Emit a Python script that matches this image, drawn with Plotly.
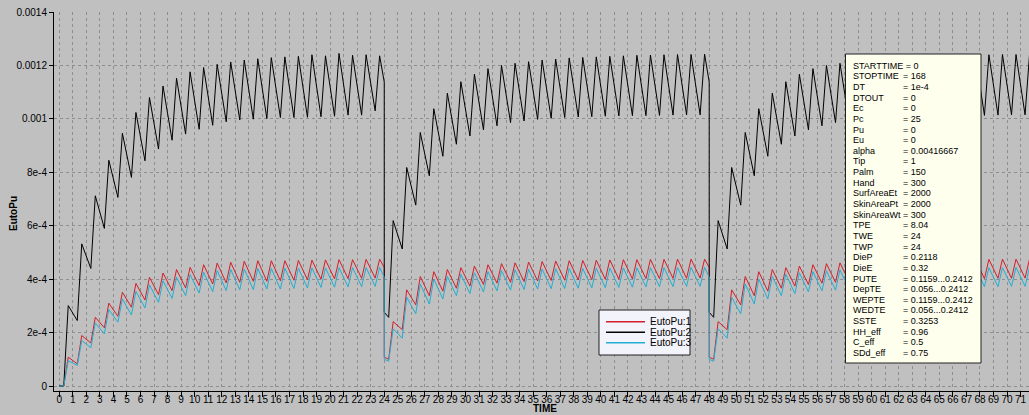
import plotly.graph_objects as go

# ---------------- data ----------------
period_starts = [0, 24, 48]

# values at t = start and t = start + 0.33 (before the first intake of each day)
black_start = [[0.0, 0.0], [0.000276, 0.000257], [0.000276, 0.000257]]
red_start = [[0.0, 0.0], [0.000108, 0.000100], [0.000108, 0.000100]]
cyan_start = [[0.0, 0.0], [0.000100, 0.000093], [0.000100, 0.000093]]

# peaks at hour k + 0.66, troughs at hour k + 1.33 within each 24 h period
black_peaks_1 = [0.000301, 0.000532, 0.000712, 0.000845, 0.000946, 0.001024, 0.001080, 0.001123,
                 0.001152, 0.001176, 0.001192, 0.001204, 0.001213, 0.001220, 0.001225, 0.001229,
                 0.001232, 0.001234, 0.001240, 0.001236, 0.001245, 0.001238, 0.001240, 0.001236]
black_troughs_1 = [0.000245, 0.000440, 0.000590, 0.000706, 0.000781, 0.000843, 0.000887, 0.000920,
                   0.000943, 0.000961, 0.000976, 0.000989, 0.000996, 0.000999, 0.001001, 0.001005,
                   0.001005, 0.001006, 0.001008, 0.001010, 0.001014, 0.001014, 0.001030]
black_peaks_2 = [0.000619, 0.000818, 0.000949, 0.001038, 0.001096, 0.001139, 0.001167, 0.001188,
                 0.001200, 0.001208, 0.001214, 0.001220, 0.001224, 0.001228, 0.001230, 0.001232,
                 0.001234, 0.001236, 0.001238, 0.001239, 0.001240, 0.001241, 0.001241, 0.001242]
black_troughs_2 = [0.000513, 0.000677, 0.000787, 0.000860, 0.000905, 0.000936, 0.000959, 0.000974,
                   0.000986, 0.000992, 0.000998, 0.001002, 0.001005, 0.001007, 0.001008, 0.001010,
                   0.001011, 0.001012, 0.001012, 0.001013, 0.001014, 0.001015, 0.001015]
black_peaks_3 = [0.000619, 0.000818, 0.000949, 0.001038, 0.001096, 0.001139, 0.001167, 0.001188,
                 0.001200, 0.001208, 0.001214, 0.001220, 0.001224, 0.001228, 0.001230, 0.001232,
                 0.001234, 0.001236, 0.001238, 0.001239, 0.001240, 0.001241, 0.001241, 0.001242]
black_troughs_3 = [0.000513, 0.000677, 0.000787, 0.000860, 0.000905, 0.000936, 0.000959, 0.000974,
                   0.000986, 0.000992, 0.000998, 0.001002, 0.001005, 0.001007, 0.001008, 0.001010,
                   0.001011, 0.001012, 0.001012, 0.001013, 0.001014, 0.001015, 0.001015]

red_peaks_1 = [0.000108, 0.000189, 0.000257, 0.000310, 0.000351, 0.000384, 0.000407, 0.000423,
               0.000436, 0.000444, 0.000454, 0.000460, 0.000463, 0.000467, 0.000469, 0.000469,
               0.000469, 0.000470, 0.000471, 0.000472, 0.000473, 0.000473, 0.000474, 0.000475]
red_troughs_1 = [0.000083, 0.000161, 0.000218, 0.000261, 0.000295, 0.000322, 0.000342, 0.000357,
                 0.000367, 0.000376, 0.000382, 0.000386, 0.000388, 0.000392, 0.000392, 0.000394,
                 0.000396, 0.000398, 0.000400, 0.000401, 0.000402, 0.000403, 0.000404]
red_peaks_2 = [0.000241, 0.000360, 0.000410, 0.000428, 0.000436, 0.000443, 0.000449, 0.000454,
               0.000458, 0.000461, 0.000464, 0.000466, 0.000468, 0.000469, 0.000470, 0.000471,
               0.000472, 0.000473, 0.000473, 0.000474, 0.000474, 0.000475, 0.000475, 0.000475]
red_troughs_2 = [0.000211, 0.000304, 0.000338, 0.000355, 0.000366, 0.000374, 0.000380, 0.000385,
                 0.000388, 0.000391, 0.000393, 0.000395, 0.000396, 0.000397, 0.000398, 0.000399,
                 0.000400, 0.000401, 0.000402, 0.000402, 0.000403, 0.000403, 0.000404]
red_peaks_3 = [0.000241, 0.000360, 0.000410, 0.000428, 0.000436, 0.000443, 0.000449, 0.000454,
               0.000458, 0.000461, 0.000464, 0.000466, 0.000468, 0.000469, 0.000470, 0.000471,
               0.000472, 0.000473, 0.000473, 0.000474, 0.000474, 0.000475, 0.000475, 0.000475]
red_troughs_3 = [0.000211, 0.000304, 0.000338, 0.000355, 0.000366, 0.000374, 0.000380, 0.000385,
                 0.000388, 0.000391, 0.000393, 0.000395, 0.000396, 0.000397, 0.000398, 0.000399,
                 0.000400, 0.000401, 0.000402, 0.000402, 0.000403, 0.000403, 0.000404]

cyan_peaks_1 = [0.000095, 0.000170, 0.000236, 0.000286, 0.000326, 0.000354, 0.000379, 0.000394,
                0.000407, 0.000417, 0.000426, 0.000432, 0.000436, 0.000438, 0.000440, 0.000440,
                0.000441, 0.000441, 0.000442, 0.000442, 0.000443, 0.000443, 0.000443, 0.000444]
cyan_troughs_1 = [0.000077, 0.000143, 0.000195, 0.000239, 0.000266, 0.000292, 0.000313, 0.000328,
                  0.000338, 0.000348, 0.000353, 0.000357, 0.000360, 0.000361, 0.000363, 0.000363,
                  0.000365, 0.000367, 0.000369, 0.000370, 0.000371, 0.000372, 0.000373]
cyan_peaks_2 = [0.000214, 0.000332, 0.000382, 0.000400, 0.000410, 0.000418, 0.000424, 0.000428,
                0.000432, 0.000435, 0.000437, 0.000438, 0.000439, 0.000440, 0.000440, 0.000441,
                0.000441, 0.000442, 0.000442, 0.000443, 0.000443, 0.000443, 0.000444, 0.000444]
cyan_troughs_2 = [0.000179, 0.000270, 0.000307, 0.000326, 0.000338, 0.000346, 0.000352, 0.000356,
                  0.000359, 0.000361, 0.000363, 0.000364, 0.000365, 0.000366, 0.000367, 0.000368,
                  0.000369, 0.000370, 0.000371, 0.000372, 0.000372, 0.000373, 0.000373]
cyan_peaks_3 = [0.000214, 0.000332, 0.000382, 0.000400, 0.000410, 0.000418, 0.000424, 0.000428,
                0.000432, 0.000435, 0.000437, 0.000438, 0.000439, 0.000440, 0.000440, 0.000441,
                0.000441, 0.000442, 0.000442, 0.000443, 0.000443, 0.000443, 0.000444, 0.000444]
cyan_troughs_3 = [0.000179, 0.000270, 0.000307, 0.000326, 0.000338, 0.000346, 0.000352, 0.000356,
                  0.000359, 0.000361, 0.000363, 0.000364, 0.000365, 0.000366, 0.000367, 0.000368,
                  0.000369, 0.000370, 0.000371, 0.000372, 0.000372, 0.000373, 0.000373]

# value just before the reset at the end of each period (t = start + 24)
black_end = [0.001138, 0.001138, None]
red_end = [0.000444, 0.000444, None]
cyan_end = [0.000407, 0.000407, None]

series_names = ["EutoPu:1", "EutoPu:2", "EutoPu:3"]
series_colors = ["#d41e2a", "#000000", "#22aed2"]

x_ticks = list(range(0, 72))
y_ticks = [0, 0.0002, 0.0004, 0.0006, 0.0008, 0.0010, 0.0012, 0.0014]
y_tick_labels = ["0", "2e-4", "4e-4", "6e-4", "8e-4", "0.001", "0.0012", "0.0014"]

param_names = ["STARTTIME", "STOPTIME", "DT", "DTOUT", "Ec", "Pc", "Pu", "Eu", "alpha", "Tip",
               "Palm", "Hand", "SurfAreaEt", "SkinAreaPt", "SkinAreaWt", "TPE", "TWE", "TWP",
               "DieP", "DieE", "PUTE", "DepTE", "WEPTE", "WEDTE", "SSTE", "HH_eff", "C_eff",
               "SDd_eff"]
param_values = ["0", "168", "1e-4", "0", "0", "25", "0", "0", "0.00416667", "1", "150", "300",
                "2000", "2000", "300", "8.04", "24", "24", "0.2118", "0.32", "0.1159...0.2412",
                "0.056...0.2412", "0.1159...0.2412", "0.056...0.2412", "0.3253", "0.96", "0.5",
                "0.75"]


def assemble(starts, start_vals, peaks, troughs, ends):
    t, v = [], []
    for s, sv, pk, tr, e in zip(starts, start_vals, peaks, troughs, ends):
        t += [s, s + 0.33]
        v += list(sv)
        for k, p in enumerate(pk):
            t.append(s + k + 0.66)
            v.append(p)
            if k < len(tr):
                t.append(s + k + 1.33)
                v.append(tr[k])
        if e is not None:
            t.append(s + 24)
            v.append(e)
    return t, v


red_t, red_v = assemble(period_starts, red_start, [red_peaks_1, red_peaks_2, red_peaks_3],
                        [red_troughs_1, red_troughs_2, red_troughs_3], red_end)
black_t, black_v = assemble(period_starts, black_start, [black_peaks_1, black_peaks_2, black_peaks_3],
                            [black_troughs_1, black_troughs_2, black_troughs_3], black_end)
cyan_t, cyan_v = assemble(period_starts, cyan_start, [cyan_peaks_1, cyan_peaks_2, cyan_peaks_3],
                          [cyan_troughs_1, cyan_troughs_2, cyan_troughs_3], cyan_end)

# ---------------- figure ----------------
NARROW = "Liberation Sans Narrow, Arial Narrow, Liberation Sans, Arial, sans-serif"
BOLD = "Liberation Sans, Arial, sans-serif"
W, H = 1029, 415
PL, PR, PT, PB = 54, 1029, 12, 391


def px_x(px):
    return (px - PL) / (PR - PL)


def px_y(py):
    return (PB - py) / (PB - PT)


fig = go.Figure()
for (tt, vv), name, col in zip([(red_t, red_v), (black_t, black_v), (cyan_t, cyan_v)],
                               series_names, series_colors):
    fig.add_trace(go.Scatter(x=tt, y=vv, mode="lines", name=name,
                             line=dict(color=col, width=1)))

shapes = []
annotations = []

# legend box (drawn manually to match the compact original)
shapes.append(dict(type="rect", xref="paper", yref="paper", x0=px_x(599), x1=px_x(690),
                   y0=px_y(355), y1=px_y(310), fillcolor="#f3f3fb",
                   line=dict(color="#202020", width=1), layer="above"))
for i, (name, col) in enumerate(zip(series_names, series_colors)):
    yy = 321.7 + i * 10.5
    shapes.append(dict(type="line", xref="paper", yref="paper", x0=px_x(606), x1=px_x(645),
                       y0=px_y(yy), y1=px_y(yy), line=dict(color=col, width=1.5), layer="above"))
    annotations.append(dict(text=name, xref="paper", yref="paper", x=px_x(648), y=px_y(yy),
                            xanchor="left", yanchor="middle", showarrow=False,
                            font=dict(family=NARROW, size=10, color="black")))

# parameter box
BOX_FONT = dict(family=NARROW, size=9, color="black")
shapes.append(dict(type="rect", xref="paper", yref="paper", x0=px_x(845.5), x1=px_x(981),
                   y0=px_y(363), y1=px_y(54), fillcolor="#ffffee",
                   line=dict(color="#202020", width=1), layer="above"))
for i, (n, val) in enumerate(zip(param_names, param_values)):
    yy = 65.7 + i * 10.64
    if i == 0:
        annotations.append(dict(text=f"{n} = {val}", xref="paper", yref="paper", x=px_x(851),
                                y=px_y(yy), xanchor="left", yanchor="middle", showarrow=False,
                                font=BOX_FONT))
        continue
    annotations.append(dict(text=n, xref="paper", yref="paper", x=px_x(851), y=px_y(yy),
                            xanchor="left", yanchor="middle", showarrow=False, font=BOX_FONT))
    annotations.append(dict(text=f"= {val}", xref="paper", yref="paper", x=px_x(901), y=px_y(yy),
                            xanchor="left", yanchor="middle", showarrow=False, font=BOX_FONT))

# axis titles
annotations.append(dict(text="<b>TIME</b>", xref="paper", yref="paper", x=px_x(545), y=px_y(408.5),
                        xanchor="center", yanchor="middle", showarrow=False,
                        font=dict(family=BOLD, size=10, color="black")))
annotations.append(dict(text="<b>EutoPu</b>", xref="paper", yref="paper", x=px_x(13), y=px_y(214),
                        xanchor="center", yanchor="middle", showarrow=False, textangle=-90,
                        font=dict(family=BOLD, size=10, color="black")))

fig.update_layout(
    width=W, height=H,
    margin=dict(l=PL, r=W - PR, t=PT, b=H - PB, pad=0, autoexpand=False),
    paper_bgcolor="#c0c0c0", plot_bgcolor="#c0c0c0",
    showlegend=False,
    font=dict(family=NARROW, size=10, color="black"),
    shapes=shapes, annotations=annotations,
    xaxis=dict(range=[-0.39, 71.62], tickmode="array", tickvals=x_ticks,
               ticktext=[str(v) for v in x_ticks], tickangle=0, ticks="outside", ticklen=5,
               tickwidth=1, tickcolor="black", showline=True, linecolor="black", linewidth=1,
               showgrid=True, gridcolor="#8e8e8e", griddash="dot", gridwidth=1, zeroline=False,
               automargin=False, ticklabelstandoff=-6,
               tickfont=dict(family=NARROW, size=10, color="black")),
    yaxis=dict(range=[-0.0000187, 0.0014], tickmode="array", tickvals=y_ticks,
               ticktext=y_tick_labels, ticks="outside", ticklen=4, tickwidth=1,
               tickcolor="black", showline=True, linecolor="black", linewidth=1,
               showgrid=True, gridcolor="#8e8e8e", griddash="dot", gridwidth=1, zeroline=False,
               automargin=False, tickfont=dict(family=NARROW, size=10, color="black")),
)

fig.write_html("out.html")
